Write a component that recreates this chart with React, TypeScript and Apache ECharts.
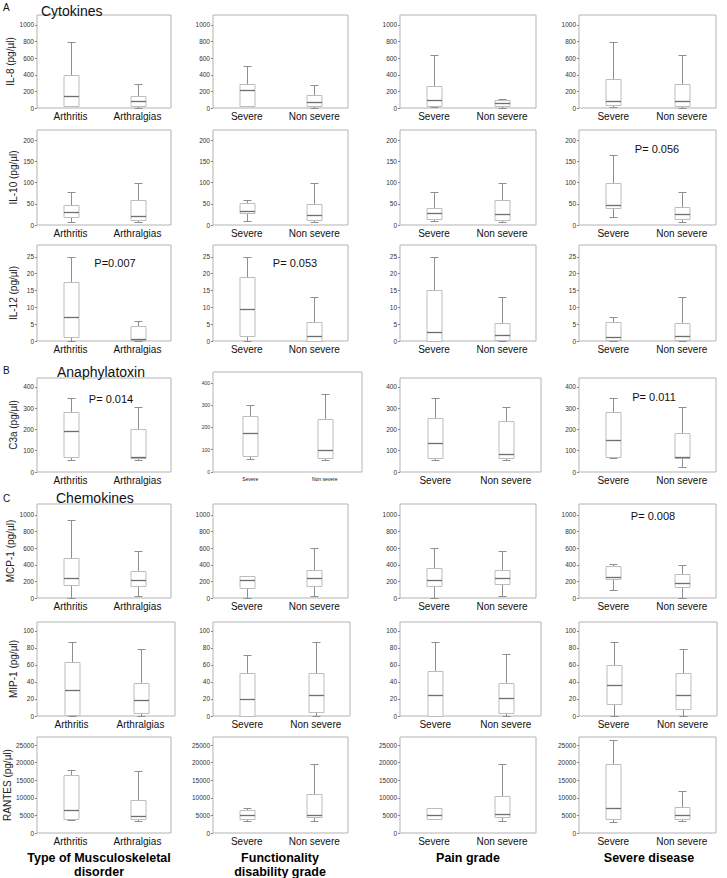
import React, { useEffect, useRef } from 'react';
import * as echarts from 'echarts';

const FONT = '"Liberation Sans", Arial, Helvetica, sans-serif';

// ---------- categories & labels ----------
const groupCategories = [
  ['Arthritis', 'Arthralgias'],
  ['Severe', 'Non severe'],
  ['Severe', 'Non severe'],
  ['Severe', 'Non severe'],
];
const columnTitles = [
  ['Type of Musculoskeletal', 'disorder'],
  ['Functionality', 'disability grade'],
  ['Pain grade'],
  ['Severe disease'],
];
const markerNames = [
  'IL-8 (pg/µl)',
  'IL-10 (pg/µl)',
  'IL-12 (pg/µl)',
  'C3a (pg/µl)',
  'MCP-1 (pg/µl)',
  'MIP-1 (pg/µl)',
  'RANTES (pg/µl)',
];

// ---------- tick labels ----------
const il8Ticks = [0, 200, 400, 600, 800, 1000];
const il10Ticks = [0, 50, 100, 150, 200];
const il12Ticks = [0, 5, 10, 15, 20, 25];
const c3aTicks = [0, 100, 200, 300, 400];
const mcp1Ticks = [0, 200, 400, 600, 800, 1000];
const mip1Ticks = [0, 20, 40, 60, 80, 100];
const rantesTicks = [0, 5000, 10000, 15000, 20000, 25000];
const axisMaxima = [1120, 224, 28.5, 442, 1132, 110.5, 27300];

// ---------- box values: [min, Q1, median, Q3, max] per group, per column ----------
const il8 = [
  [[20, 25, 140, 400, 800], [5, 25, 80, 150, 295]],
  [[20, 25, 215, 290, 505], [5, 25, 75, 155, 275]],
  [[10, 20, 95, 270, 635], [5, 25, 55, 95, 105]],
  [[15, 35, 85, 350, 800], [5, 30, 90, 295, 635]],
];
const il10 = [
  [[8, 20, 30, 46, 77], [8, 12, 22, 60, 98]],
  [[10, 28, 32, 52, 60], [8, 12, 23, 49, 98]],
  [[9, 15, 28, 40, 77], [8, 12, 27, 60, 98]],
  [[18, 40, 47, 100, 165], [8, 14, 26, 42, 77]],
];
const il12 = [
  [[0, 1.2, 7, 17.5, 25], [0, 0.3, 0.7, 4.5, 6]],
  [[0, 1.5, 9.6, 19, 25], [0, 0, 1.5, 5.7, 13]],
  [[0, 0, 2.7, 15, 25], [0, 0.2, 1.7, 5.3, 13]],
  [[0, 0.2, 1.1, 5.6, 7], [0, 0.2, 1.5, 5.4, 13]],
];
const c3a = [
  [[58, 70, 195, 280, 350], [55, 65, 72, 200, 305]],
  [[60, 70, 175, 252, 300], [55, 65, 100, 240, 350]],
  [[58, 68, 138, 252, 350], [55, 68, 85, 238, 305]],
  [[68, 70, 152, 283, 350], [25, 65, 72, 185, 305]],
];
const mcp1 = [
  [[0, 160, 245, 480, 940], [20, 140, 220, 325, 565]],
  [[0, 115, 215, 260, 262], [20, 150, 235, 340, 600]],
  [[0, 150, 220, 365, 600], [20, 165, 245, 340, 565]],
  [[100, 230, 255, 390, 410], [0, 130, 175, 285, 400]],
];
const mip1 = [
  [[0, 1, 31, 63, 87], [0, 3, 19, 39, 79]],
  [[0, 0, 20, 50, 72], [0, 5, 25, 50, 87]],
  [[0, 0, 25, 53, 87], [0, 4, 21, 39, 73]],
  [[0, 14, 37, 60, 87], [0, 8, 25, 50, 79]],
];
const rantes = [
  [[3800, 4000, 6500, 16500, 18000], [3500, 4000, 4800, 9500, 17500]],
  [[3500, 4000, 5000, 6500, 7000], [3500, 4500, 5000, 11000, 19500]],
  [[4000, 4000, 5000, 7000, 7000], [3500, 4500, 5500, 10500, 19500]],
  [[3000, 4000, 7000, 19500, 26500], [3500, 4000, 5000, 7500, 12000]],
];

const rowsData = [il8, il10, il12, c3a, mcp1, mip1, rantes];
const rowsTicks = [il8Ticks, il10Ticks, il12Ticks, c3aTicks, mcp1Ticks, mip1Ticks, rantesTicks];

// p-values: row, column, text
const pValues = [
  { row: 1, col: 3, text: 'P= 0.056' },
  { row: 2, col: 0, text: 'P=0.007' },
  { row: 2, col: 1, text: 'P= 0.053' },
  { row: 3, col: 0, text: 'P= 0.014' },
  { row: 3, col: 3, text: 'P= 0.011' },
  { row: 4, col: 3, text: 'P= 0.008' },
];

// ---------- layout ----------
const rowTop = [15, 130, 245, 378, 504, 622, 737];
const rowHeight = [93, 95, 96, 94, 94, 94, 96];
const colLeft = [37, 213, 400, 579];
const colWidth = [134, 135, 136, 137];
const pPos: Record<string, [number, number]> = {
  '1-3': [657, 149],
  '2-0': [115, 263],
  '2-1': [295, 263],
  '3-0': [111, 399],
  '3-3': [654, 397],
  '4-3': [653, 516],
};

function gridRect(r: number, c: number) {
  let left = colLeft[c];
  let top = rowTop[r];
  let width = colWidth[c];
  let height = rowHeight[r];
  if (r === 3 && c === 1) { top = 372; height = 100; width = 149; }
  if (r === 3 && c === 2) { width = 141; }
  if (r === 5) { width = [138, 137, 141, 138][c]; }
  return { left, top, width, height };
}

const renderBox = (params: any, api: any) => {
  const x = api.value(0);
  const v = [1, 2, 3, 4, 5].map((i) => api.value(i));
  const p = v.map((val) => api.coord([x, val]));
  const cx = Math.round(p[0][0]) + 0.5;
  const bw = 15;
  const cap = 8;
  const y = p.map((pt: number[]) => Math.round(pt[1]) + 0.5);
  const whisk = { stroke: '#8f8f8f', lineWidth: 1 };
  return {
    type: 'group',
    children: [
      { type: 'line', shape: { x1: cx, y1: y[0], x2: cx, y2: y[1] }, style: whisk },
      { type: 'line', shape: { x1: cx, y1: y[3], x2: cx, y2: y[4] }, style: whisk },
      { type: 'line', shape: { x1: cx - cap / 2, y1: y[0], x2: cx + cap / 2, y2: y[0] }, style: whisk },
      { type: 'line', shape: { x1: cx - cap / 2, y1: y[4], x2: cx + cap / 2, y2: y[4] }, style: whisk },
      {
        type: 'rect',
        shape: { x: cx - bw / 2, y: y[3], width: bw, height: Math.max(y[1] - y[3], 1) },
        style: { fill: '#ffffff', stroke: '#bdbdbd', lineWidth: 1 },
      },
      { type: 'line', shape: { x1: cx - bw / 2, y1: y[2], x2: cx + bw / 2, y2: y[2] }, style: { stroke: '#6e6e6e', lineWidth: 1.3 } },
    ],
  };
};

export default function App() {
  const ref = useRef<HTMLDivElement>(null);

  useEffect(() => {
    document.body.style.margin = '0';
    if (!ref.current) return;
    const chart = echarts.init(ref.current, undefined, { renderer: 'svg' });

    const grid: any[] = [];
    const xAxis: any[] = [];
    const yAxis: any[] = [];
    const series: any[] = [];

    for (let r = 0; r < 7; r++) {
      for (let c = 0; c < 4; c++) {
        const idx = r * 4 + c;
        const small = r === 3 && c === 1;
        const rect = gridRect(r, c);
        grid.push({ ...rect, show: true, borderColor: '#b3b3b3', borderWidth: 1, backgroundColor: 'transparent' });
        xAxis.push({
          type: 'category',
          gridIndex: idx,
          data: groupCategories[c],
          axisLine: { show: false },
          axisTick: { show: false },
          splitLine: { show: false },
          axisLabel: { interval: 0, fontSize: small ? 5 : 10, color: '#111', margin: small ? 4 : 3, fontFamily: FONT },
        });
        const ticks = rowsTicks[r];
        yAxis.push({
          type: 'value',
          gridIndex: idx,
          min: 0,
          max: small ? 449 : axisMaxima[r],
          axisLine: { show: false },
          splitLine: { show: false },
          axisTick: { show: true, length: 2, lineStyle: { color: '#888' }, customValues: ticks },
          axisLabel: {
            fontSize: small ? 5 : 6.5,
            color: '#333',
            margin: 3,
            fontFamily: FONT,
            customValues: ticks,
            formatter: (val: number) => String(val),
          },
          name: c === 0 ? markerNames[r] : '',
          nameLocation: 'middle',
          nameRotate: 90,
          nameGap: 19,
          nameTextStyle: { fontSize: 10, color: '#222', fontFamily: FONT },
        });
        series.push({
          type: 'custom',
          xAxisIndex: idx,
          yAxisIndex: idx,
          data: rowsData[r][c].map((b, i) => [i, ...b]),
          encode: { x: 0, y: [1, 2, 3, 4, 5] },
          renderItem: renderBox,
          clip: false,
        });
      }
    }

    const graphic: any[] = [];
    const txt = (text: string, x: number, y: number, fontSize: number, extra: any = {}) => ({
      type: 'text',
      x,
      y,
      style: { text, fontSize, fontFamily: FONT, fill: '#111', textAlign: 'left', textVerticalAlign: 'middle', ...extra },
    });
    graphic.push(txt('A', 3, 7, 10));
    graphic.push(txt('Cytokines', 41, 11, 14));
    graphic.push(txt('B', 3, 370, 10));
    graphic.push(txt('Anaphylatoxin', 57, 372, 14));
    graphic.push(txt('C', 3, 498, 10));
    graphic.push(txt('Chemokines', 56, 498, 14));

    pValues.forEach((p) => {
      const pos = pPos[`${p.row}-${p.col}`];
      graphic.push(txt(p.text, pos[0], pos[1], 11, { textAlign: 'center' }));
    });

    const titleX = [99, 280, 468, 649];
    columnTitles.forEach((lines, c) => {
      lines.forEach((line, li) => {
        graphic.push(txt(line, titleX[c], 858 + li * 14, 12.5, { textAlign: 'center', fontWeight: 'bold', fill: '#000' }));
      });
    });

    chart.setOption({
      animation: false,
      backgroundColor: '#ffffff',
      textStyle: { fontFamily: FONT },
      grid,
      xAxis,
      yAxis,
      series,
      graphic,
    });

    return () => chart.dispose();
  }, []);

  return <div ref={ref} style={{ width: 727, height: 878 }} />;
}
